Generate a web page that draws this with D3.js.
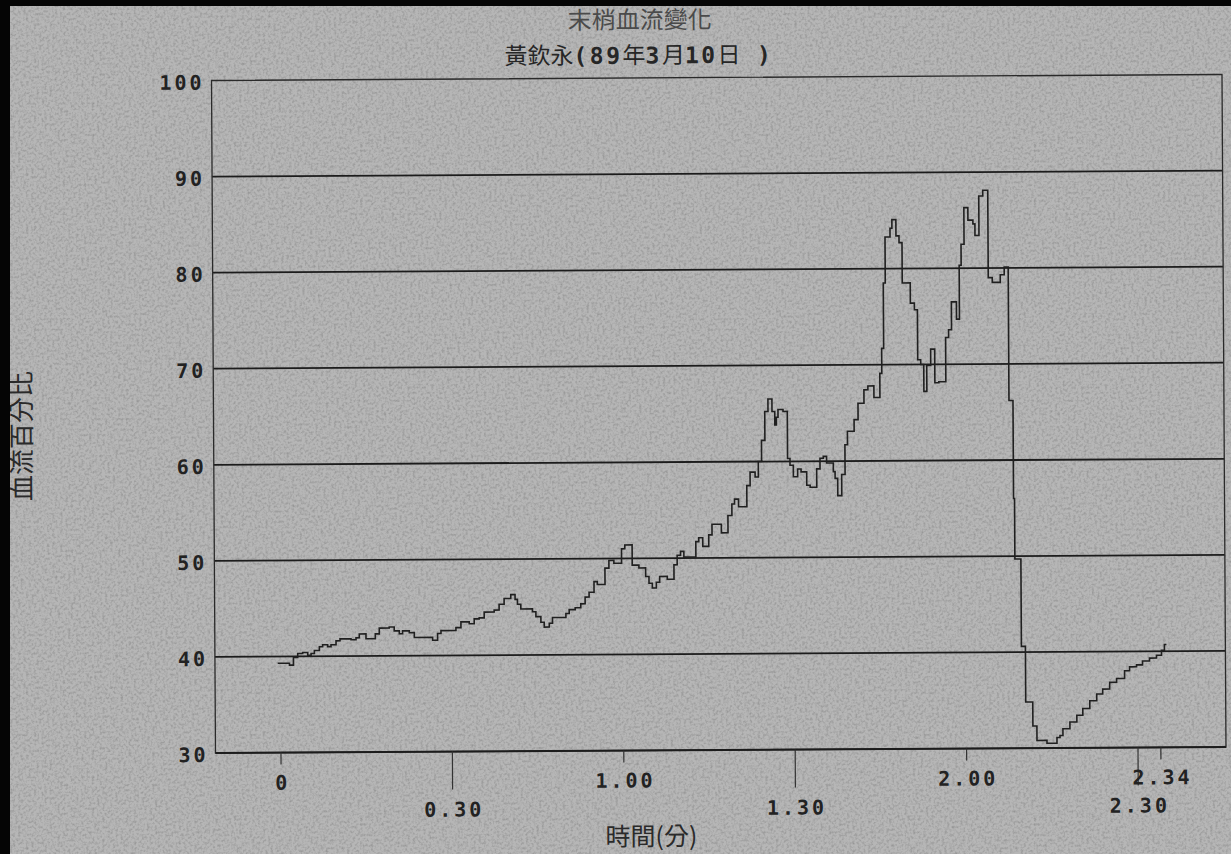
<!DOCTYPE html>
<html>
<head>
<meta charset="utf-8">
<script src="https://cdn.jsdelivr.net/npm/d3@7"></script>
<style>
  html, body { margin: 0; padding: 0; background: #b1b1b1; }
  svg { display: block; }
</style>
</head>
<body>
<div id="chart"></div>
<script>
// time in seconds (step start), blood flow percent
const times = [-0.47, 1.58, 2.28, 3.03, 3.90, 4.78, 5.37, 5.95, 6.83, 7.40, 8.28, 8.87, 9.75, 10.45, 12.38, 13.25, 13.83, 15.00, 16.63, 17.33,
  19.08, 19.95, 20.83, 21.41, 22.58, 23.46, 26.66, 27.53, 28.13, 30.75, 31.63, 33.08, 33.96, 34.83, 35.71, 37.46, 38.33, 39.21, 40.38, 41.13,
  41.54, 42.13, 44.16, 44.76, 45.63, 46.21, 47.09, 47.66, 50.01, 50.59, 51.64, 52.63, 53.39, 54.09, 54.96, 55.54, 56.89, 57.59, 58.46, 59.81,
  60.39, 61.67, 62.84, 64.01, 64.59, 65.17, 65.87, 66.46, 67.79, 68.97, 69.54, 70.14, 70.72, 72.82, 73.34, 74.04, 75.09, 75.67, 77.31, 78.47,
  79.17, 79.64, 80.34, 81.80, 82.39, 83.27, 83.84, 84.42, 85.02, 85.59, 86.29, 86.77, 87.05, 87.34, 88.22, 88.97, 89.39, 89.97, 90.72, 91.32,
  92.30, 92.89, 94.05, 94.64, 95.22, 95.80, 96.97, 97.27, 97.72, 98.42, 99.02, 99.47, 100.65, 101.35, 102.40, 103.10, 104.15, 105.20, 105.55, 105.90,
  106.25, 107.13, 107.47, 108.17, 108.70, 109.22, 110.62, 111.32, 111.85, 112.37, 112.90, 113.42, 114.12, 114.83, 115.52, 116.75, 117.28, 117.80, 118.68, 119.20,
  119.55, 120.08, 120.78, 121.65, 122.00, 122.70, 123.40, 124.28, 124.98, 126.38, 127.08, 127.78, 128.48, 128.65, 129.70, 130.40, 131.63, 132.33, 134.08, 135.83,
  136.36, 136.88, 138.11, 139.33, 140.38, 141.61, 142.83, 143.88, 145.11, 146.33, 147.73, 148.61, 149.83, 150.88, 152.11, 153.33, 154.21, 154.73, 155.08];
const flow = [39.3, 39.1, 39.9, 40.3, 40.4, 40.1, 40.3, 40.6, 41.0, 41.2, 41.0, 41.2, 41.6, 41.8, 41.7, 41.9, 42.3, 41.8, 42.3, 42.9,
  43.0, 42.6, 42.3, 42.6, 42.4, 41.9, 41.6, 42.3, 42.6, 42.9, 43.5, 43.3, 43.8, 43.9, 44.5, 44.7, 45.3, 45.9, 46.3, 45.8,
  45.3, 44.8, 44.5, 44.0, 43.4, 42.9, 43.3, 43.9, 44.3, 44.7, 44.9, 45.3, 46.0, 46.5, 47.6, 47.3, 49.0, 49.8, 49.5, 51.0,
  51.4, 49.3, 49.0, 48.1, 47.4, 46.9, 47.5, 48.1, 47.8, 49.3, 50.3, 50.7, 50.1, 51.7, 52.1, 51.2, 52.4, 53.5, 52.6, 54.4,
  55.6, 56.1, 55.3, 57.5, 58.9, 58.4, 60.0, 62.2, 65.2, 66.5, 65.2, 63.8, 64.6, 65.4, 65.2, 60.3, 59.6, 58.4, 59.2, 58.9,
  57.5, 57.3, 59.2, 60.3, 60.5, 59.8, 58.9, 58.2, 56.4, 58.6, 61.7, 63.1, 64.3, 66.0, 67.4, 67.8, 66.6, 69.1, 71.7, 78.5,
  83.3, 84.2, 85.1, 83.4, 82.7, 78.5, 76.4, 75.7, 70.5, 70.0, 67.2, 69.9, 71.6, 68.1, 68.2, 72.8, 73.6, 76.5, 74.7, 80.3,
  82.5, 86.3, 85.0, 84.6, 83.4, 87.5, 88.1, 79.0, 78.5, 79.3, 80.1, 66.2, 56.0, 49.7, 40.6, 34.8, 32.3, 30.8, 30.5, 31.1,
  31.3, 32.0, 32.7, 33.4, 34.1, 34.9, 35.6, 36.1, 36.8, 37.2, 38.0, 38.4, 38.6, 39.0, 39.3, 39.6, 40.1, 40.7, 40.7];

const yTicks = [30, 40, 50, 60, 70, 80, 90, 100];
const xTicksTop = [0, 60, 120, 154];
const xTicksBottom = [30, 90, 150];
const xTickLabels = {0: "0", 30: "0.30", 60: "1.00", 90: "1.30", 120: "2.00", 150: "2.30", 154: "2.34"};

const titleText = "末梢血流變化";
const yLabel = "血流百分比";
const xLabel = "時間(分)";

const width = 1231, height = 854;
const plotL = 213.5, plotR = 1224, plotT = 77.5, plotB = 750;

const svg = d3.select("#chart")
  .append("svg")
  .attr("width", width)
  .attr("height", height);

// paper grain
const defs = svg.append("defs");
const f = defs.append("filter").attr("id", "grain").attr("x", 0).attr("y", 0).attr("width", "100%").attr("height", "100%");
f.append("feTurbulence").attr("type", "fractalNoise").attr("baseFrequency", 0.38).attr("numOctaves", 2).attr("seed", 4).attr("result", "n");
f.append("feColorMatrix").attr("type", "matrix")
  .attr("values", "0 0 0 0 0  0 0 0 0 0  0 0 0 0 0  -1.8 0 0 0 1.05");

svg.append("rect").attr("width", width).attr("height", height).attr("fill", "#b6b6b6");
svg.append("rect").attr("width", width).attr("height", height).attr("filter", "url(#grain)").attr("opacity", 0.2);

const x = d3.scaleLinear().domain([-11.46, 165.4]).range([plotL, plotR]);
const y = d3.scaleLinear().domain([30, 100]).range([plotB, plotT]);

const g = svg.append("g").attr("transform", "rotate(-0.34, 718, 415)");
const ink = "#1c1c1c";

// grid lines
g.append("g")
  .selectAll("line")
  .data(yTicks.filter(d => d > 30 && d < 100))
  .join("line")
  .attr("x1", plotL).attr("x2", plotR)
  .attr("y1", d => y(d)).attr("y2", d => y(d))
  .attr("stroke", ink)
  .attr("stroke-width", 1.8);

// frame
g.append("rect")
  .attr("x", plotL).attr("y", plotT)
  .attr("width", plotR - plotL).attr("height", plotB - plotT)
  .attr("fill", "none")
  .attr("stroke", "#2a2a2a")
  .attr("stroke-width", 1.3);
g.append("line")
  .attr("x1", plotL).attr("x2", plotR)
  .attr("y1", plotB).attr("y2", plotB)
  .attr("stroke", ink).attr("stroke-width", 1.8);

// y labels
g.append("g")
  .selectAll("text")
  .data(yTicks)
  .join("text")
  .attr("x", plotL - 7)
  .attr("y", d => y(d) + 2)
  .attr("text-anchor", "end")
  .attr("dominant-baseline", "central")
  .attr("font-family", "DejaVu Sans Mono, monospace")
  .attr("font-weight", "bold")
  .attr("font-size", 20)
  .attr("letter-spacing", 3)
  .attr("fill", "#222")
  .text(d => d);

// x ticks
g.append("g")
  .selectAll("line")
  .data(xTicksTop)
  .join("line")
  .attr("x1", d => x(d)).attr("x2", d => x(d))
  .attr("y1", plotB).attr("y2", plotB + 12)
  .attr("stroke", "#333").attr("stroke-width", 1.2);
g.append("g")
  .selectAll("line")
  .data(xTicksBottom)
  .join("line")
  .attr("x1", d => x(d)).attr("x2", d => x(d))
  .attr("y1", plotB).attr("y2", plotB + 38)
  .attr("stroke", "#333").attr("stroke-width", 1.2);

const tickText = (sel, rowY) => sel
  .attr("x", d => x(d) + 1.5)
  .attr("y", rowY)
  .attr("text-anchor", "middle")
  .attr("dominant-baseline", "central")
  .attr("font-family", "DejaVu Sans Mono, monospace")
  .attr("font-weight", "bold")
  .attr("font-size", 20)
  .attr("letter-spacing", 3)
  .attr("fill", "#222")
  .text(d => xTickLabels[d]);

g.append("g").selectAll("text").data(xTicksTop).join("text").call(tickText, plotB + 30);
g.append("g").selectAll("text").data(xTicksBottom).join("text").call(tickText, plotB + 58);

// the flow trace
const line = d3.line()
  .x((d, i) => x(times[i]))
  .y(d => y(d))
  .curve(d3.curveStepAfter);

g.append("path")
  .datum(flow)
  .attr("d", line)
  .attr("fill", "none")
  .attr("stroke", "#202020")
  .attr("stroke-width", 1.6);

// titles
g.append("text")
  .attr("x", 642).attr("y", 28)
  .attr("text-anchor", "middle")
  .attr("font-family", "Noto Sans CJK TC")
  .attr("font-size", 24)
  .attr("fill", "#4a4a4a")
  .text(titleText);

const sub = g.append("text")
  .attr("x", 641).attr("y", 63)
  .attr("text-anchor", "middle")
  .attr("font-size", 23)
  .attr("fill", "#262626");
[["黃欽永", false], ["(89", true], ["年", false], ["3", true], ["月", false], ["10", true], ["日", false], [" )", true]]
  .forEach(([s, mono]) => {
    sub.append("tspan")
      .attr("font-family", mono ? "DejaVu Sans Mono" : "Noto Sans CJK TC")
      .attr("font-weight", mono ? "bold" : "normal")
      .attr("letter-spacing", mono ? 2.5 : 0)
      .text(s);
  });

g.append("text")
  .attr("x", 649).attr("y", 845)
  .attr("text-anchor", "middle")
  .attr("font-family", "Noto Sans CJK TC")
  .attr("font-size", 25)
  .attr("fill", "#2a2a2a")
  .text(xLabel);

g.append("text")
  .attr("transform", "translate(31,432) rotate(-90)")
  .attr("text-anchor", "middle")
  .attr("font-family", "Noto Sans CJK TC")
  .attr("font-size", 26)
  .attr("fill", "#2a2a2a")
  .text(yLabel);

// photo edges
svg.append("rect").attr("x", 0).attr("y", 0).attr("width", width).attr("height", 6).attr("fill", "#050505");
svg.append("rect").attr("x", 0).attr("y", 0).attr("width", 10).attr("height", height).attr("fill", "#050505");
</script>
</body>
</html>
